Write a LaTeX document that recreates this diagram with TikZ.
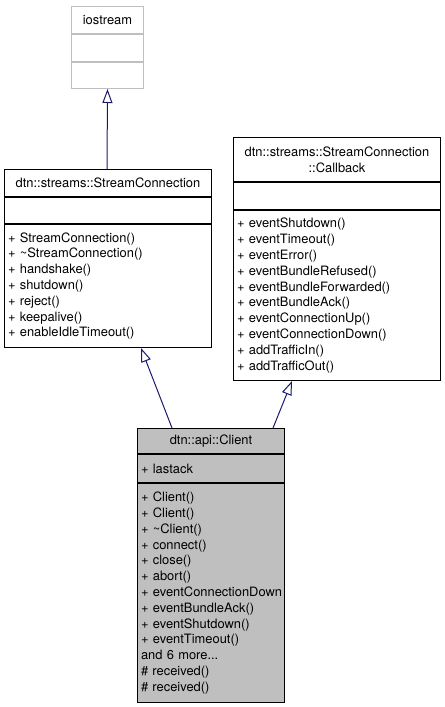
\documentclass[tikz,border=0pt]{standalone}
\usepackage{fontspec}
\setmainfont{TeX Gyre Heros}
\usepackage{xcolor}
\usepackage{tikz}
\usetikzlibrary{arrows.meta, positioning}

\definecolor{edgeblue}{RGB}{25,25,112}
\definecolor{clsgray}{RGB}{191,191,191}
\newcommand{\umlfont}{\fontsize{12.9bp}{15.8bp}\selectfont}

\tikzset{
    part/.style={draw=black, line width=1bp, inner xsep=3.5bp, inner ysep=0pt, font=\umlfont},
    headpart/.style={part, align=center},
    listpart/.style={part, align=left},
    inherit/.style={edgeblue, line width=1bp, -{Triangle[open, length=14bp, width=10bp]}},
}

\begin{document}
\begin{tikzpicture}[x=1bp, y=-1bp]
    \useasboundingbox (0,0) rectangle (445,707);

    % iostream
    \node[headpart, draw=clsgray, text width=65bp, minimum height=27bp, anchor=north west] (ioHead) at (71,6) {iostream};
    \node[listpart, draw=clsgray, text width=65bp, minimum height=27bp, below=0pt of ioHead] (ioAttr) {};
    \node[listpart, draw=clsgray, text width=65bp, minimum height=26bp, below=0pt of ioAttr] (ioOps) {};

    % StreamConnection
    \node[headpart, text width=200bp, minimum height=27bp, anchor=north west] (scHead) at (4,169) {dtn::streams::StreamConnection};
    \node[listpart, text width=200bp, minimum height=26bp, below=0pt of scHead] (scAttr) {};
    \node[listpart, text width=200bp, minimum height=123bp, below=0pt of scAttr] (scOps) {%
        + StreamConnection()\\
        + \textasciitilde StreamConnection()\\
        + handshake()\\
        + shutdown()\\
        + reject()\\
        + keepalive()\\
        + enableIdleTimeout()};

    % StreamConnection::Callback
    \node[headpart, text width=200bp, minimum height=44bp, anchor=north west] (cbHead) at (233,137) {dtn::streams::StreamConnection\\::Callback};
    \node[listpart, text width=200bp, minimum height=27bp, below=0pt of cbHead] (cbAttr) {};
    \node[listpart, text width=200bp, minimum height=170bp, below=0pt of cbAttr] (cbOps) {%
        + eventShutdown()\\
        + eventTimeout()\\
        + eventError()\\
        + eventBundleRefused()\\
        + eventBundleForwarded()\\
        + eventBundleAck()\\
        + eventConnectionUp()\\
        + eventConnectionDown()\\
        + addTrafficIn()\\
        + addTrafficOut()};

    % Client
    \node[headpart, fill=clsgray, text width=140bp, minimum height=25bp, anchor=north west] (clHead) at (137,428) {dtn::api::Client};
    \node[listpart, fill=clsgray, text width=140bp, minimum height=28bp, below=0pt of clHead] (clAttr) {+ lastack};
    \node[listpart, fill=clsgray, text width=140bp, minimum height=219bp, below=0pt of clAttr] (clOps) {%
        + Client()\\
        + Client()\\
        + \textasciitilde Client()\\
        + connect()\\
        + close()\\
        + abort()\\
        \mbox{+ eventConnectionDown}\\
        + eventBundleAck()\\
        + eventShutdown()\\
        + eventTimeout()\\
        and 6 more...\\
        \# received()\\
        \# received()};

    % Vererbung
    \draw[inherit] ([xshift=103bp]scHead.north west) -- (ioOps.south);
    \draw[inherit] ([xshift=35bp]clHead.north west) -- ([xshift=137bp]scOps.south west);
    \draw[inherit] ([xshift=136bp]clHead.north west) -- ([xshift=59bp]cbOps.south west);
\end{tikzpicture}
\end{document}
